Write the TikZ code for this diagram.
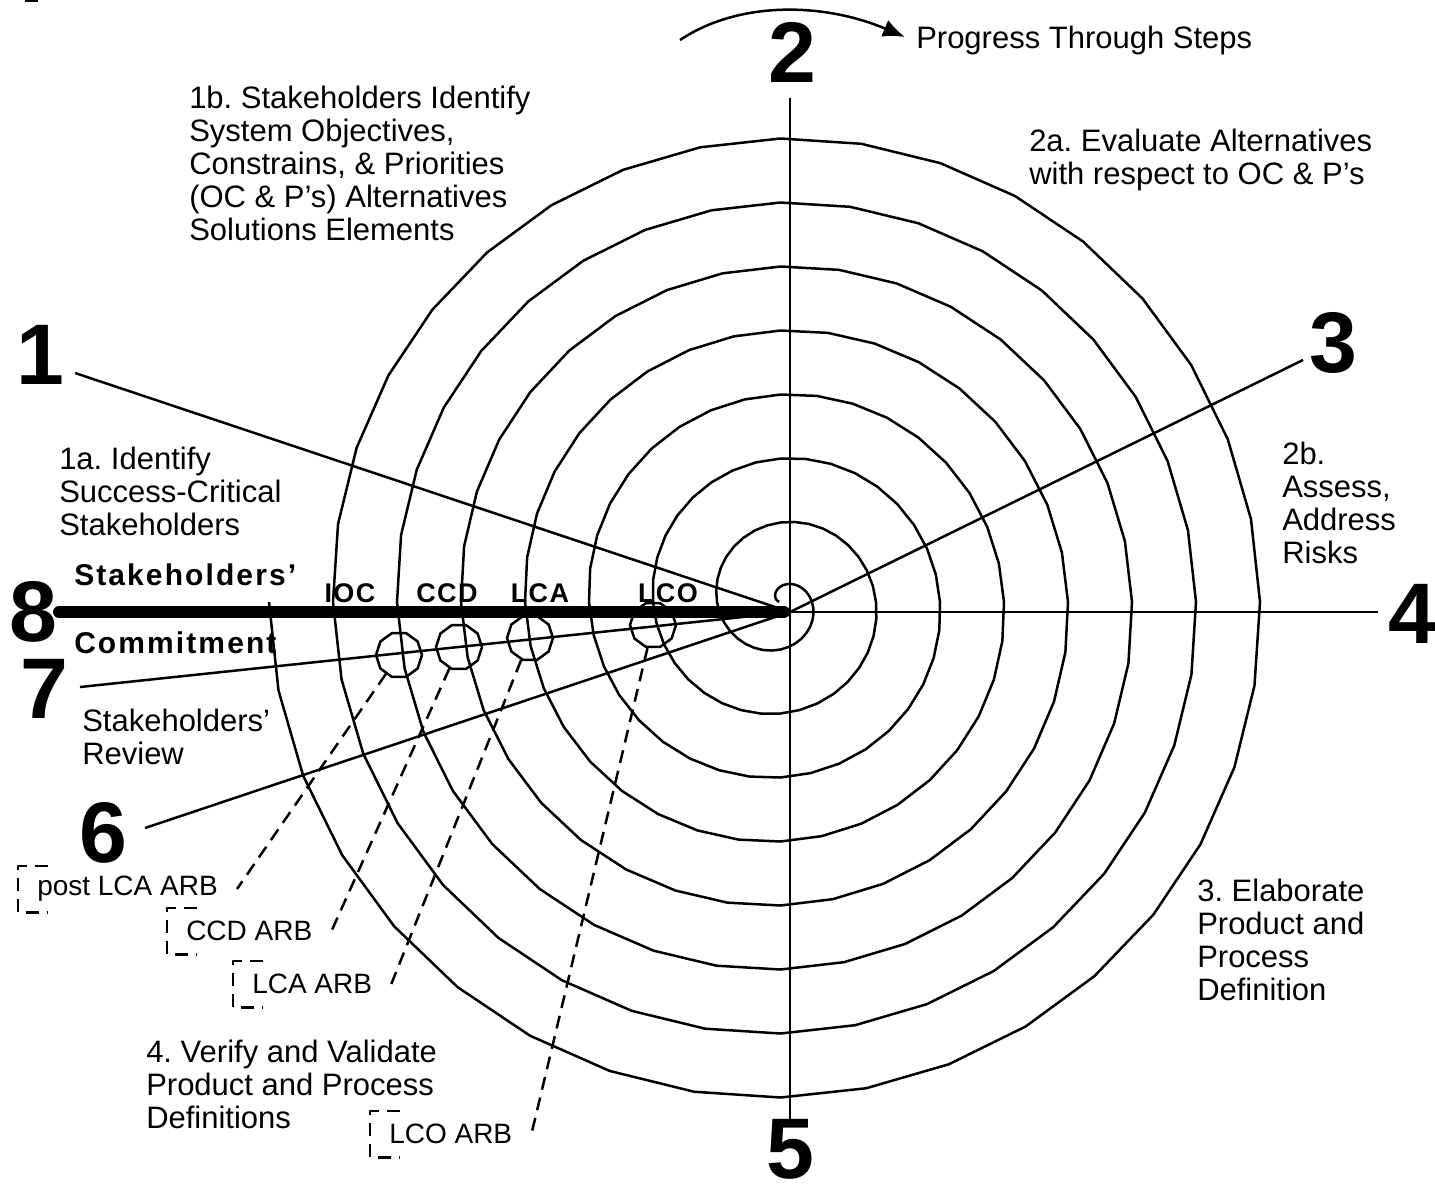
\documentclass[tikz,border=0pt]{standalone}
\usepackage{fontspec}
\setmainfont{Liberation Sans}
\usetikzlibrary{arrows.meta,shapes.geometric}
\frenchspacing
\begin{document}
\begin{tikzpicture}[x=1pt,y=-1pt,line join=round,line width=2.5pt,>={Latex[length=22pt,width=18pt]},
  digit/.style={inner sep=0pt,font=\fontsize{86}{86}\selectfont\bfseries},
  txt/.style={anchor=north west,align=left,inner sep=0pt,font=\fontsize{31}{33}\selectfont},
  bld/.style={anchor=base west,inner sep=0pt,font=\fontsize{30}{30}\selectfont\bfseries\addfontfeatures{LetterSpace=7}},
  mile/.style={anchor=base,inner sep=0pt,font=\fontsize{27}{27}\selectfont\bfseries\addfontfeatures{LetterSpace=5}},
  ring/.style={draw,regular polygon,regular polygon sides=10,minimum size=46pt,inner sep=0pt},
  arb/.style={anchor=west,inner xsep=18pt,minimum height=44pt,font=\fontsize{28}{28}\selectfont},
  link/.style={dash pattern=on 13pt off 8pt}]
\useasboundingbox (0,0) rectangle (1435,1192);
\draw (25,1)--(38,1);
\draw plot[domain=-170:2700,samples=288] ({780.5+(31.5+\x/5.625)*cos(\x)},{602+(31.5+\x/5.625)*sin(\x)});

    \coordinate (O) at (790,612);
    \coordinate (e1) at (75,373);
    \coordinate (e2) at (790,98);
    \coordinate (e3) at (1303,360);
    \coordinate (e4) at (1378,612);
    \coordinate (e5) at (790,1122);
    \coordinate (e6) at (145,828);
    \coordinate (e7) at (80,687);
    \coordinate (e8) at (59,612);

\draw (e1)--(O);
\draw (e2)--(e5);
\draw (O)--(e3);
\draw (O)--(e4);
\draw (e6)--(O);
\draw (e7)--(O);
\draw[line width=12pt,line cap=round] (e8)--([xshift=-6pt]O);

    \node[digit] (d1) at (40,355) {1};
    \node[digit] (d2) at (792,52) {2};
    \node[digit] (d3) at (1333,343) {3};
    \node[digit] (d4) at (1412,614) {4};
    \node[digit] (d5) at (790,1149) {5};
    \node[digit] (d6) at (103,833) {6};
    \node[digit] (d7) at (44,689) {7};
    \node[digit] (d8) at (33,612) {8};

    \coordinate (a0) at (680,40);
    \coordinate (a1) at (905,37);
\draw[->] (a0) .. controls (740,0) and (825,3) .. (a1);
    \node[anchor=base west,inner sep=0pt,font=\fontsize{31}{33}\selectfont] (prog) at (915,48) {Progress Through Steps};

    \node[txt] (t1b) at (188,85) {1b. Stakeholders Identify\\System Objectives,\\Constrains, \& Priorities\\(OC \& P's) Alternatives\\Solutions Elements};
    \node[txt] (t2a) at (1028,128) {2a. Evaluate Alternatives\\with respect to OC \& P's};
    \node[txt] (t2b) at (1281,441) {2b.\\Assess,\\Address\\Risks};
    \node[txt] (t1a) at (58,446) {1a. Identify\\Success-Critical\\Stakeholders};
    \node[txt] (trev) at (81,708) {Stakeholders'\\Review};
    \node[txt] (t3) at (1196,878) {3. Elaborate\\Product and\\Process\\Definition};
    \node[txt] (t4) at (145,1039) {4. Verify and Validate\\Product and Process\\Definitions};

    \node[bld] (sk) at (73,585) {Stakeholders'};
    \node[bld] (cm) at (73,653) {Commitment};

    \node[mile] (lioc) at (350,602) {IOC};
    \node[mile] (lccd) at (447,602) {CCD};
    \node[mile] (llca) at (540,602) {LCA};
    \node[mile] (llco) at (668,602) {LCO};

    \node[ring] (mioc) at (399,655) {};
    \node[ring] (mccd) at (459,647) {};
    \node[ring] (mlca) at (530,638) {};
    \node[ring] (mlco) at (653,625) {};

    \node[arb] (rpost) at (18,889) {post LCA ARB};
    \node[arb] (rccd) at (167,931) {CCD ARB};
    \node[arb] (rlca) at (233,984) {LCA ARB};
    \node[arb] (rlco) at (370,1134) {LCO ARB};

\draw[link] (mioc)--(rpost.east);
\draw[link] (mccd)--(rccd.east);
\draw[link] (mlca)--(rlca.east);
\draw[link] (mlco)--(rlco.east);
\foreach \b in {rpost,rccd,rlca,rlco}
  \draw[link] ([xshift=30pt]\b.north west)--(\b.north west)--(\b.south west)--([xshift=30pt]\b.south west);
\end{tikzpicture}
\end{document}
